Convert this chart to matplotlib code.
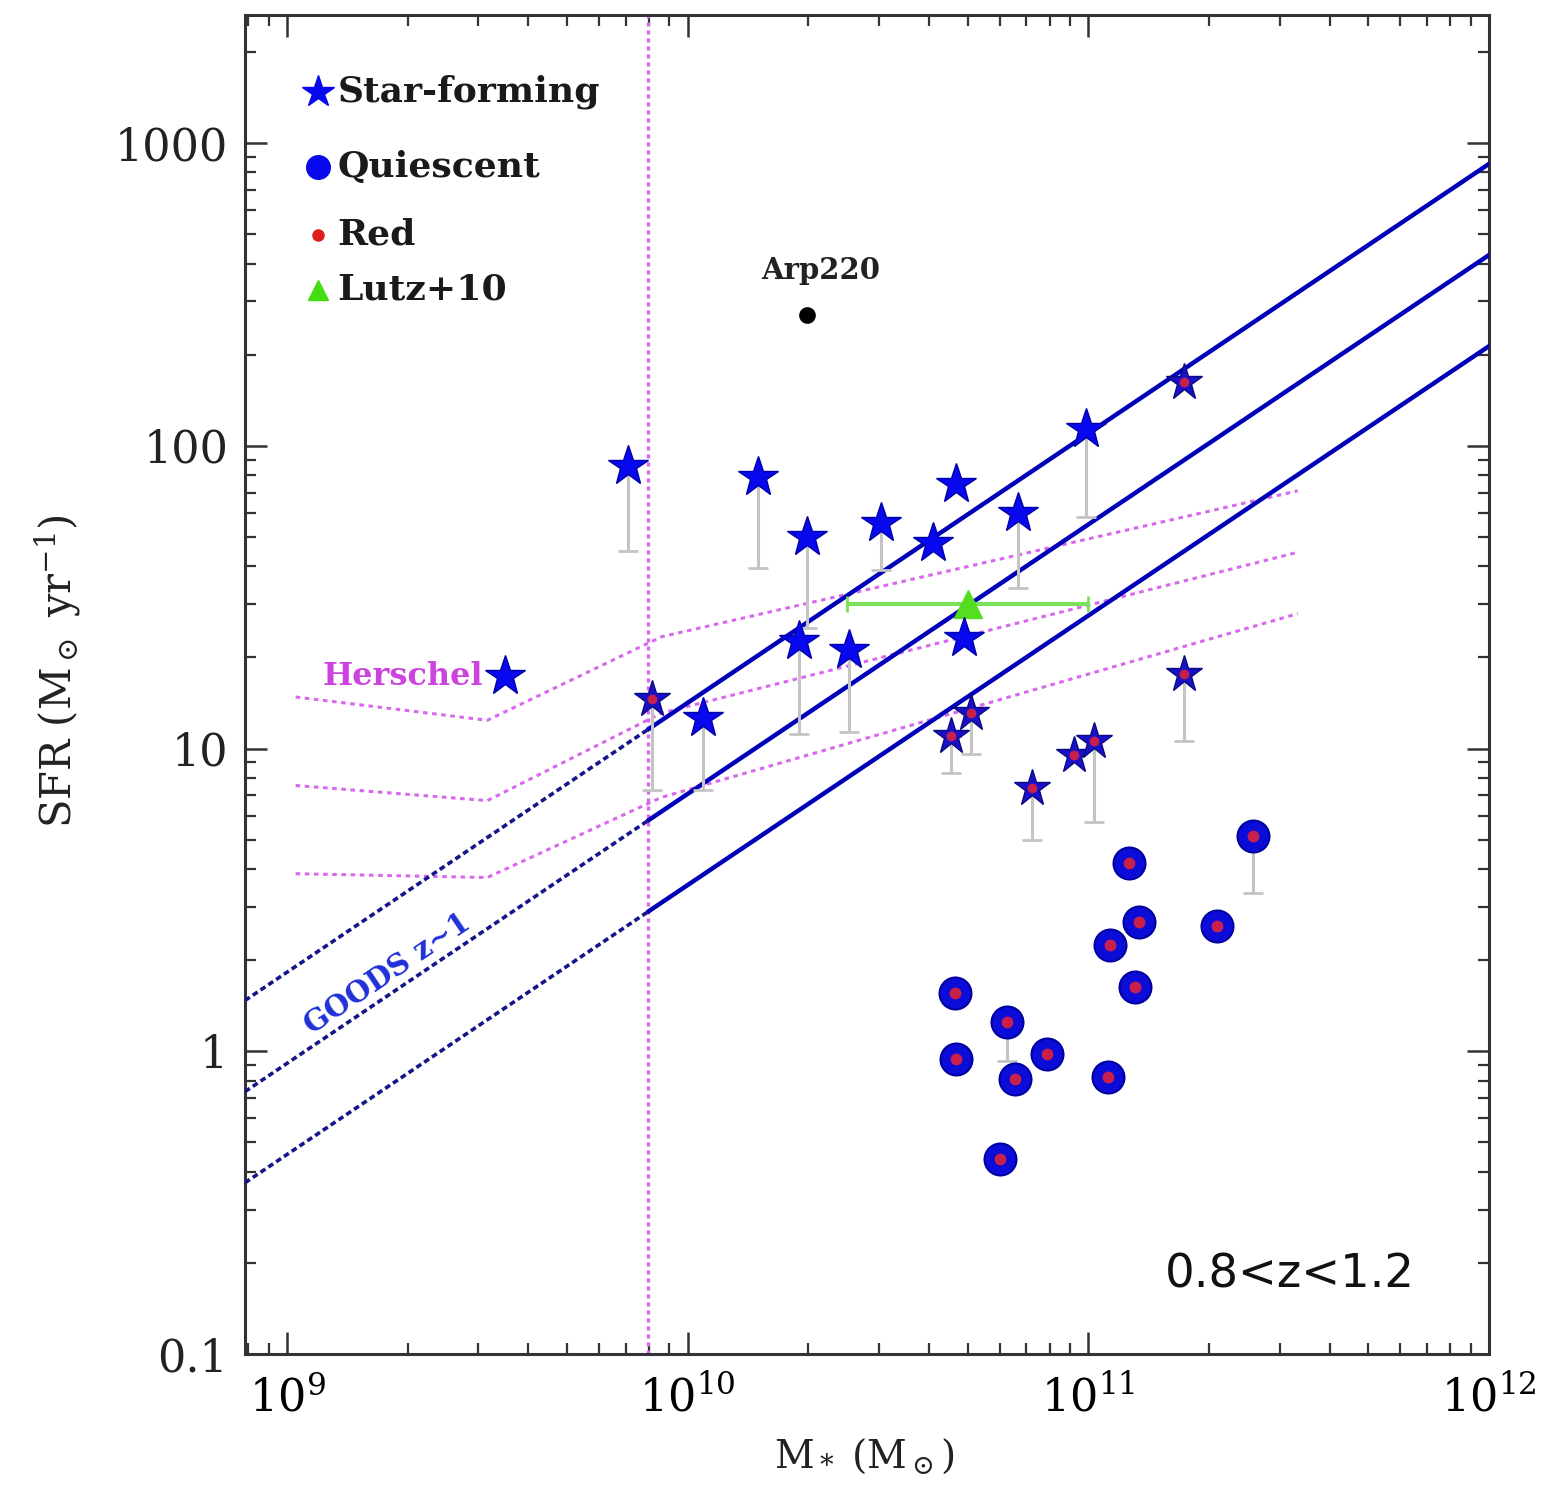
import numpy as np
import matplotlib
matplotlib.use("Agg")
import matplotlib.pyplot as plt
from matplotlib.ticker import FuncFormatter, LogLocator, NullFormatter

plt.rcParams["font.family"] = "DejaVu Serif"
plt.rcParams["mathtext.fontset"] = "dejavuserif"

# star-forming galaxies (blue stars): mass, SFR, lower end of error bar
sf_mass = [7.08e9, 1.5e10, 1.98e10, 3.04e10, 4.1e10, 4.68e10, 6.68e10, 9.89e10,
           1.9e10, 2.53e10, 4.9e10, 3.5e9, 1.09e10]
sf_sfr = [86, 78.7, 49.8, 55.8, 47.6, 75, 60, 114, 22.7, 21.1, 23.1, 17.3, 12.6]
sf_lo = [45, 39.6, 25, 38.8, 47.6, 75, 33.8, 58, 11.2, 11.3, 23.1, 17.3, 7.3]

# star-forming but red colours (stars with red centre)
red_sf_mass = [1.73e11, 8.13e9, 5.1e10, 4.55e10, 7.24e10, 9.2e10, 1.03e11, 1.73e11]
red_sf_sfr = [162, 14.6, 13.1, 11.0, 7.4, 9.5, 10.6, 17.6]
red_sf_lo = [162, 7.3, 9.6, 8.3, 5.0, 9.5, 5.7, 10.6]

# quiescent galaxies (circles, all red)
q_mass = [2.58e11, 1.26e11, 1.34e11, 2.1e11, 1.13e11, 1.31e11, 4.65e10,
          6.28e10, 4.68e10, 7.9e10, 6.57e10, 1.12e11, 6.03e10]
q_sfr = [5.16, 4.2, 2.68, 2.6, 2.25, 1.63, 1.56, 1.25, 0.94, 0.98, 0.81, 0.82, 0.44]
q_lo = [3.34, 4.2, 2.68, 2.6, 2.25, 1.63, 1.56, 0.93, 0.94, 0.98, 0.81, 0.82, 0.44]

# Lutz+10 stacked point
lutz_mass, lutz_sfr = 5e10, 30
lutz_mlo, lutz_mhi = 2.5e10, 1e11

# Arp220
arp_mass, arp_sfr = 1.98e10, 270

# GOODS z~1 main sequence: SFR = ms_norm * (M / 1e11)^ms_slope, x2 and x0.5
ms_norm = 55.0
ms_slope = 0.89
ms_scales = [2.0, 1.0, 0.5]
ms_break = 8e9

# Herschel detection limits
hers_mass = [1.05e9, 3.16e9, 8.6e9, 3.33e11]
hers_top = [14.8, 12.4, 23.4, 71]
hers_mid = [7.55, 6.73, 13.1, 44.5]
hers_bot = [3.86, 3.75, 6.9, 27.9]
mass_limit = 7.96e9

xmin, xmax = 7.85e8, 1e12
ymin, ymax = 0.1, 2650

fig = plt.figure(figsize=(15.45, 14.95), dpi=100)
ax = fig.add_axes([0.15858, 0.0943, 0.8052, 0.8957])
ax.set_xscale("log")
ax.set_yscale("log")
ax.set_xlim(xmin, xmax)
ax.set_ylim(ymin, ymax)

pink = "#d868ee"
for curve in (hers_top, hers_mid, hers_bot):
    ax.plot(hers_mass, curve, color=pink, lw=2.2, ls=(0, (1.5, 1.5)), zorder=2)
ax.axvline(mass_limit, color=pink, lw=2.4, ls=(0, (1.2, 1.2)), zorder=2)

m_lo = np.logspace(np.log10(xmin), np.log10(ms_break), 50)
m_hi = np.logspace(np.log10(ms_break), np.log10(xmax), 50)
for s in ms_scales:
    ax.plot(m_lo, s * ms_norm * (m_lo / 1e11) ** ms_slope, color="#15158a",
            lw=2.6, ls=(0, (1.6, 1.0)), zorder=3)
    ax.plot(m_hi, s * ms_norm * (m_hi / 1e11) ** ms_slope, color="#0000b8",
            lw=3.2, zorder=3)

ebar = dict(fmt="none", ecolor="#c4c4c4", elinewidth=2.2, capsize=7, capthick=2, zorder=4)
for mass, sfr, lo in ((sf_mass, sf_sfr, sf_lo), (red_sf_mass, red_sf_sfr, red_sf_lo),
                      (q_mass, q_sfr, q_lo)):
    sfr = np.array(sfr)
    dlo = sfr - np.array(lo)
    keep = dlo > 0
    ax.errorbar(np.array(mass)[keep], sfr[keep],
                yerr=[dlo[keep], np.zeros(keep.sum())], **ebar)

# Lutz+10
ax.errorbar([lutz_mass], [lutz_sfr],
            xerr=[[lutz_mass - lutz_mlo], [lutz_mhi - lutz_mass]],
            fmt="none", ecolor="#7be05a", elinewidth=3, capsize=6, capthick=2, zorder=5)
ax.plot(lutz_mass, lutz_sfr, "^", color="#55dd22", ms=20, mec="#55dd22", zorder=6)

ax.plot(sf_mass, sf_sfr, "*", color="#0808ee", mec="#0000a8", mew=1, ms=30,
        ls="none", zorder=7)
ax.plot(red_sf_mass, red_sf_sfr, "*", color="#1a10c8", mec="#0a0a80", mew=1, ms=28,
        ls="none", zorder=7)
ax.plot(red_sf_mass, red_sf_sfr, "o", color="#c8204a", ms=7, mew=0, ls="none", zorder=8)

ax.plot(q_mass, q_sfr, "o", color="#0c0cd8", mec="#0000a0", mew=1.5, ms=23,
        ls="none", zorder=7)
ax.plot(q_mass, q_sfr, "o", color="#c8204a", ms=8.5, mew=0, ls="none", zorder=8)

ax.plot(arp_mass, arp_sfr, "o", color="black", ms=11, zorder=7)
ax.annotate("Arp220", (arp_mass, arp_sfr), xytext=(10, 32), textcoords="offset points",
            ha="center", va="center", fontsize=21, fontweight="bold", color="#222222")

ax.annotate("Herschel", (sf_mass[11], sf_sfr[11]), xytext=(-16, 0),
            textcoords="offset points", ha="right", va="center", fontsize=23,
            fontweight="bold", color="#cc44dd")

ax.text(1.78e9, 1.8, "GOODS z~1", rotation=34, ha="center", va="center",
        fontsize=21, fontweight="bold", color="#2030d8", zorder=4)

ax.text(0.9405, 0.059, "0.8<z<1.2", transform=ax.transAxes, ha="right", va="center",
        fontsize=33.5, family="DejaVu Sans", color="#111111")

# manual legend
leg_y = [0.9425, 0.8865, 0.8357, 0.7946]
leg_labels = ["Star-forming", "Quiescent", "Red", "Lutz+10"]
ax.plot(0.0587, leg_y[0], "*", color="#0808ee", ms=24, transform=ax.transAxes, zorder=9)
ax.plot(0.0587, leg_y[1], "o", color="#0808ee", ms=17, transform=ax.transAxes, zorder=9)
ax.plot(0.0587, leg_y[2], "o", color="#dd1f1f", ms=8, transform=ax.transAxes, zorder=9)
ax.plot(0.0587, leg_y[3], "^", color="#44dd11", ms=15, transform=ax.transAxes, zorder=9)
for yy, lab in zip(leg_y, leg_labels):
    ax.text(0.0745, yy, lab, transform=ax.transAxes, ha="left", va="center",
            fontsize=26, fontweight="bold", color="#1a1a1a")

# axes styling
for sp in ax.spines.values():
    sp.set_linewidth(2.2)
    sp.set_color("#333333")
ax.tick_params(which="both", direction="in", top=True, right=True, color="#333333")
ax.tick_params(which="major", length=16, width=1.8, labelsize=32, pad=12)
ax.tick_params(which="minor", length=8, width=1.6)
ax.tick_params(axis="x", which="major", pad=16)
ax.xaxis.set_major_locator(LogLocator(base=10, numticks=10))
ax.xaxis.set_minor_locator(LogLocator(base=10, subs=np.arange(2, 10), numticks=20))
ax.yaxis.set_major_locator(LogLocator(base=10, numticks=10))
ax.yaxis.set_minor_locator(LogLocator(base=10, subs=np.arange(2, 10), numticks=20))
ax.xaxis.set_minor_formatter(NullFormatter())
ax.yaxis.set_minor_formatter(NullFormatter())
ax.xaxis.set_major_formatter(FuncFormatter(lambda v, p: r"$10^{%d}$" % round(np.log10(v))))
ax.yaxis.set_major_formatter(FuncFormatter(lambda v, p: ("%g" % v)))
for lab in ax.get_yticklabels():
    lab.set_color("#222222")

ax.set_xlabel(r"M$_*$ (M$_\odot$)", fontsize=28, color="#222222")
ax.set_ylabel(r"SFR (M$_\odot$ yr$^{-1}$)", fontsize=30, color="#222222")
ax.xaxis.set_label_coords(0.498, -0.062)
ax.yaxis.set_label_coords(-0.13, 0.51)

fig.savefig("out.png", dpi=100)
